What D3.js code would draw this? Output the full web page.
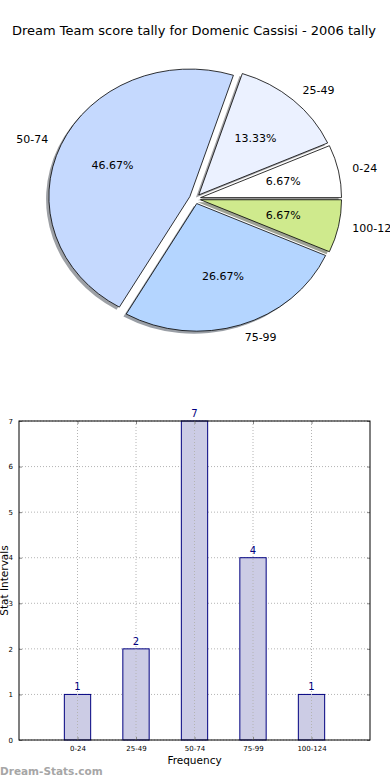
<!DOCTYPE html>
<head>
  <meta charset="utf-8">
  <script src="https://d3js.org/d3.v7.min.js"></script>
  <style>
    body { margin:0; background:#fff; }
    text { font-family: "DejaVu Sans", sans-serif; }
    .grid { stroke:#b4b4b4; stroke-width:1; stroke-dasharray:1,2; }
  </style>
</head>
<body>
  <script>
    // chart values
    var categories = ['0-24', '25-49', '50-74', '75-99', '100-124'];
    var counts = [1, 2, 7, 4, 1];
    var pieColors = ['#ffffff', '#ebf1ff', '#c5d9fe', '#b4d5ff', '#cfea8d'];
    var yTicks = [0, 1, 2, 3, 4, 5, 6, 7];
    var title = 'Dream Team score tally for Domenic Cassisi - 2006 tally';

    var width = 390, height = 780;
    var svg = d3.select('body').append('svg')
                .attr('width', width).attr('height', height);

    svg.append('text')
       .attr('x', 194).attr('y', 35)
       .attr('text-anchor', 'middle')
       .style('font-size', '13px')
       .text(title);

    // ---- pie (elliptical, like matplotlib without equal aspect)
    var cx = 195, cy = 198.7, rx = 141, ry = 127.6, explode = 0.04;
    var total = d3.sum(counts);
    var slices = d3.pie().sort(null)(counts);  // angles in [0, 2pi], used counterclockwise from east
    var arc = d3.arc().innerRadius(0).outerRadius(1);

    function mid(d){ return (d.startAngle + d.endAngle) / 2; }
    function offX(d){ return explode * rx * Math.cos(mid(d)); }
    function offY(d){ return -explode * ry * Math.sin(mid(d)); }
    function wedge(d){
      return arc({startAngle: Math.PI/2 - d.endAngle, endAngle: Math.PI/2 - d.startAngle});
    }

    var pieG = svg.append('g');

    pieG.selectAll('.shadow').data(slices).enter()
        .append('path').attr('class', 'shadow')
        .attr('transform', d => `translate(${cx + offX(d) - 0.02*rx},${cy + offY(d) + 0.02*ry}) scale(${rx},${ry})`)
        .attr('d', wedge)
        .attr('fill', (d, i) => { var c = d3.rgb(pieColors[i]); return d3.rgb(c.r*0.3, c.g*0.3, c.b*0.3); })
        .attr('opacity', 0.5);

    pieG.selectAll('.slice').data(slices).enter()
        .append('path').attr('class', 'slice')
        .attr('transform', d => `translate(${cx + offX(d)},${cy + offY(d)}) scale(${rx},${ry})`)
        .attr('d', wedge)
        .attr('fill', (d, i) => pieColors[i])
        .attr('stroke', '#000')
        .attr('stroke-width', 0.8)
        .attr('vector-effect', 'non-scaling-stroke');

    pieG.selectAll('.plabel').data(slices).enter()
        .append('text').attr('class', 'plabel')
        .attr('x', d => cx + offX(d) + 1.1*rx*Math.cos(mid(d)))
        .attr('y', d => cy + offY(d) - 1.1*ry*Math.sin(mid(d)))
        .attr('text-anchor', d => Math.cos(mid(d)) < 0 ? 'end' : 'start')
        .attr('dominant-baseline', 'central')
        .style('font-size', '11px')
        .text((d, i) => categories[i]);

    pieG.selectAll('.pct').data(slices).enter()
        .append('text').attr('class', 'pct')
        .attr('x', d => cx + offX(d) + 0.6*rx*Math.cos(mid(d)))
        .attr('y', d => cy + offY(d) - 0.6*ry*Math.sin(mid(d)))
        .attr('text-anchor', 'middle')
        .attr('dominant-baseline', 'central')
        .style('font-size', '11px')
        .text(d => (100 * d.value / total).toFixed(2) + '%');

    // ---- bar chart
    var plotL = 19, plotR = 370, plotT = 421, plotB = 740;
    var xScale = d3.scaleLinear().domain([-1, 5]).range([plotL, plotR]);
    var yScale = d3.scaleLinear().domain([0, 7]).range([plotB, plotT]);
    var barW = 0.45;

    var barG = svg.append('g');

    barG.selectAll('.ygrid').data(yTicks).enter()
        .append('line').attr('class', 'grid')
        .attr('x1', plotL).attr('x2', plotR)
        .attr('y1', d => yScale(d)).attr('y2', d => yScale(d));

    barG.selectAll('.bar').data(counts).enter()
        .append('rect').attr('class', 'bar')
        .attr('x', (d, i) => xScale(i - barW/2))
        .attr('width', xScale(barW) - xScale(0))
        .attr('y', d => yScale(d))
        .attr('height', d => yScale(0) - yScale(d))
        .attr('fill', '#cccce5')
        .attr('stroke', '#000080').attr('stroke-width', 1);

    // vertical grid is drawn over the bars in the reference
    barG.selectAll('.xgrid').data(categories).enter()
        .append('line').attr('class', 'grid')
        .attr('x1', (d, i) => xScale(i)).attr('x2', (d, i) => xScale(i))
        .attr('y1', plotT).attr('y2', plotB);

    barG.selectAll('.val').data(counts).enter()
        .append('text').attr('class', 'val')
        .attr('x', (d, i) => xScale(i))
        .attr('y', d => yScale(d) - 4)
        .attr('text-anchor', 'middle')
        .attr('fill', '#000080')
        .style('font-size', '10px')
        .text(d => d);

    var yAxis = d3.axisLeft(yScale).tickValues(yTicks).tickFormat(d3.format('d'))
                  .tickSize(-3).tickPadding(6);
    barG.append('g').attr('transform', `translate(${plotL},0)`).call(yAxis)
        .call(g => g.selectAll('text').style('font-size', '7px').style('font-family', 'DejaVu Sans'));
    barG.append('g').attr('transform', `translate(${plotR},0)`)
        .call(d3.axisRight(yScale).tickValues(yTicks).tickSize(-3).tickFormat(''));

    var xAxis = d3.axisBottom(xScale).tickValues(d3.range(categories.length))
                  .tickFormat(i => categories[i]).tickSize(-3).tickPadding(6);
    barG.append('g').attr('transform', `translate(0,${plotB})`).call(xAxis)
        .call(g => g.selectAll('text').style('font-size', '7px').style('font-family', 'DejaVu Sans'));
    barG.append('g').attr('transform', `translate(0,${plotT})`)
        .call(d3.axisTop(xScale).tickValues(d3.range(categories.length)).tickSize(-3).tickFormat(''));

    barG.selectAll('.domain').remove();
    barG.selectAll('.tick line').attr('stroke', '#888');

    barG.append('rect')
        .attr('x', plotL).attr('y', plotT)
        .attr('width', plotR - plotL).attr('height', plotB - plotT)
        .attr('fill', 'none').attr('stroke', '#000').attr('stroke-width', 1);

    barG.append('text')
        .attr('x', (plotL + plotR) / 2).attr('y', 764)
        .attr('text-anchor', 'middle')
        .style('font-size', '10.5px')
        .text('Frequency');

    barG.append('text')
        .attr('transform', `translate(4,${(plotT + plotB) / 2}) rotate(-90)`)
        .attr('text-anchor', 'middle')
        .attr('dominant-baseline', 'central')
        .style('font-size', '10.5px')
        .text('Stat Intervals');

    svg.append('text')
       .attr('x', 0).attr('y', 775)
       .style('font-size', '10.5px').style('font-weight', 'bold')
       .attr('fill', '#a6a6a6')
       .text('Dream-Stats.com');
  </script>
</body>
